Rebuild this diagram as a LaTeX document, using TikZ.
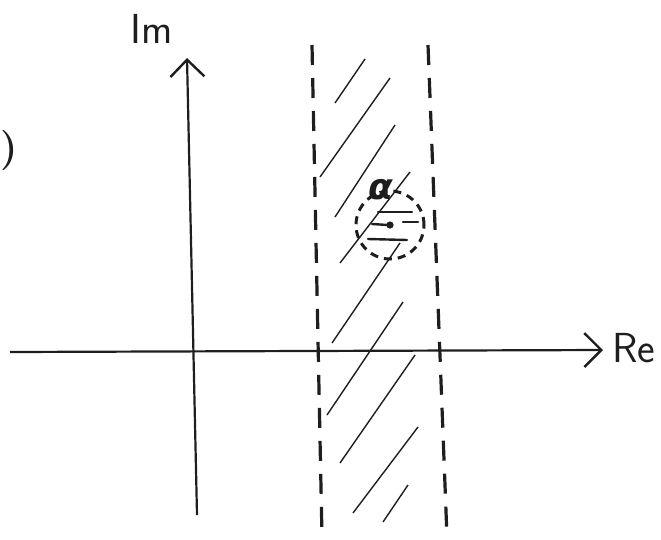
\documentclass[tikz,border=0pt]{standalone}
\usepackage{fontspec}
\newfontfamily\greekfont{DejaVu Sans}
\usepackage{tikz}
\usetikzlibrary{arrows.meta}
\definecolor{ink}{HTML}{1E1E1E}

\begin{document}
\begin{tikzpicture}[
  x=1pt, y=-1pt,
  axis/.style={draw=ink, line width=2.2pt},
  tip/.style={-{Straight Barb[length=17pt, width=34pt, line width=2.4pt]}},
  strip/.style={draw=ink, line width=3.2pt, dash pattern=on 20pt off 13pt},
  hatch/.style={draw=ink, line width=1.4pt},
  inner/.style={draw=ink, line width=2.4pt, line cap=round},
  disc/.style={draw=ink, line width=3pt, dash pattern=on 8pt off 6pt, circle, minimum size=68pt, inner sep=0pt},
  axislabel/.style={text=ink, font=\sffamily\fontsize{42}{42}\selectfont}
]
\useasboundingbox (0,0) rectangle (661,539);
% axes
\coordinate (west) at (10,352);
\coordinate (east) at (603,350);
\coordinate (south) at (197,515);
\coordinate (north) at (187,58);
\draw[axis, tip] (west) -- (east);
\draw[axis, tip] (south) -- (north);
\node[axislabel] (re) at (634,348) {Re};
\node[axislabel] (im) at (152,29) {Im};
\node[text=ink, font=\bfseries\fontsize{40}{40}\selectfont, anchor=west, inner sep=0pt] (paren) at (0,151) {)};
% strip
\coordinate (lefttop) at (312,45);
\coordinate (leftbot) at (322,537);
\coordinate (righttop) at (428,45);
\coordinate (rightbot) at (447,537);
\draw[strip] (lefttop) -- (leftbot);
\draw[strip] (righttop) -- (rightbot);
\foreach \xa/\ya/\xb/\yb in {335/103/365/59, 320/177/390/78, 335/217/395/125,
    340/263/410/172, 332/343/400/243, 327/415/403/302, 340/463/415/355,
    353/513/418/427, 383/522/408/485}
  \draw[hatch] (\xa,\ya) -- (\xb,\yb);
% disc round alpha
\node[disc] (disc) at (390,225) {};
\fill[ink] (disc.center) circle (3.6);
\draw[inner] (378,212) -- (412,212);
\draw[inner] (372,224) -- (388,225);
\draw[inner] (403,222) -- (418,222);
\draw[inner] (368,239) -- (407,240);
\node[text=ink, font=\greekfont\bfseries\itshape\fontsize{36}{36}\selectfont] (alpha) at (381,190) {α};
\end{tikzpicture}
\end{document}
